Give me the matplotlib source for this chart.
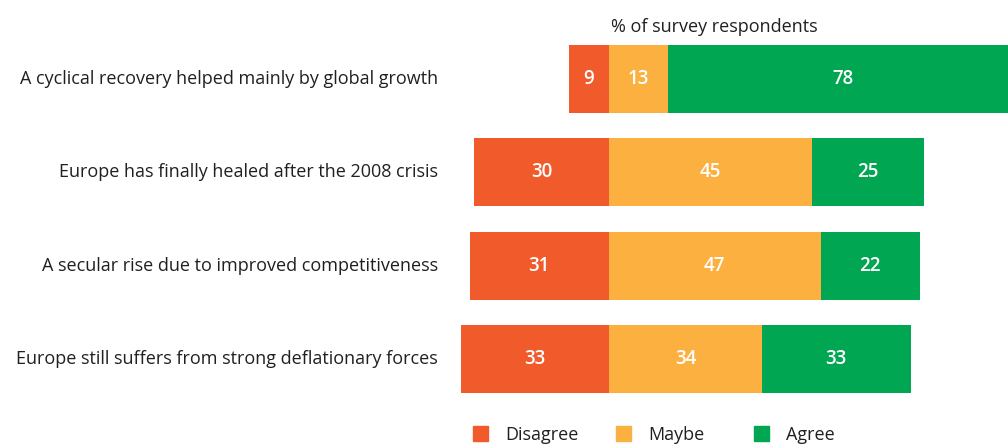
import numpy as np
import matplotlib.pyplot as plt
from matplotlib.patches import Rectangle
from matplotlib.transforms import blended_transform_factory

plt.rcParams['font.family'] = ['Open Sans', 'DejaVu Sans']

# survey answers, % of respondents
statements = ["A cyclical recovery helped mainly by global growth",
              "Europe has finally healed after the 2008 crisis",
              "A secular rise due to improved competitiveness",
              "Europe still suffers from strong deflationary forces"]
disagree = [9, 30, 31, 33]
maybe = [13, 45, 47, 34]
agree = [78, 25, 22, 33]

categories = ["Disagree", "Maybe", "Agree"]
colors = ["#F15A2B", "#FBB040", "#00A651"]

W, H = 1008, 445
fig = plt.figure(figsize=(W / 100, H / 100), dpi=100)
# axes from the label column to the right edge; zero line sits at x=609 px
ax = fig.add_axes([440 / W, 0, 568 / W, 1])
scale = 4.5  # px per percent
ax.set_xlim(-(609 - 440) / scale, (W - 609) / scale)
row_gap = (359 - 79) / 3
ax.set_ylim(3 + (H - 359) / row_gap, -79 / row_gap)
ax.axis('off')

y = np.arange(len(statements))
d = np.array(disagree)
m = np.array(maybe)
a = np.array(agree)
h = 68 / row_gap

ax.barh(y, -d, height=h, color=colors[0], linewidth=0)
ax.barh(y, m, height=h, color=colors[1], linewidth=0)
ax.barh(y, a, left=m, height=h, color=colors[2], linewidth=0)

for i in range(len(y)):
    for xc, v in [(-d[i] / 2, d[i]), (m[i] / 2, m[i]), (m[i] + a[i] / 2, a[i])]:
        ax.text(xc, i, str(v), ha='center', va='center', color='white',
                fontsize=13.5, fontweight='semibold')

# statement labels to the left of the bars
trans = blended_transform_factory(fig.transFigure, ax.transData)
for i, s in enumerate(statements):
    ax.text(438 / W, i, s, transform=trans, ha='right', va='center',
            fontsize=13.0, color='#231F20')

fig.text(714 / W, 1 - 27 / H, "% of survey respondents", ha='center',
         va='center', fontsize=13, color='#231F20')

# legend along the bottom
sq_x = [473, 616, 754]
for x0, lab, c in zip(sq_x, categories, colors):
    fig.patches.append(Rectangle((x0 / W, 1 - 441 / H), 15 / W, 15 / H,
                                 transform=fig.transFigure, color=c))
    fig.text((x0 + 32) / W, 1 - 435 / H, lab, ha='left', va='center',
             fontsize=13, color='#231F20')

fig.savefig('out.png', dpi=100)
